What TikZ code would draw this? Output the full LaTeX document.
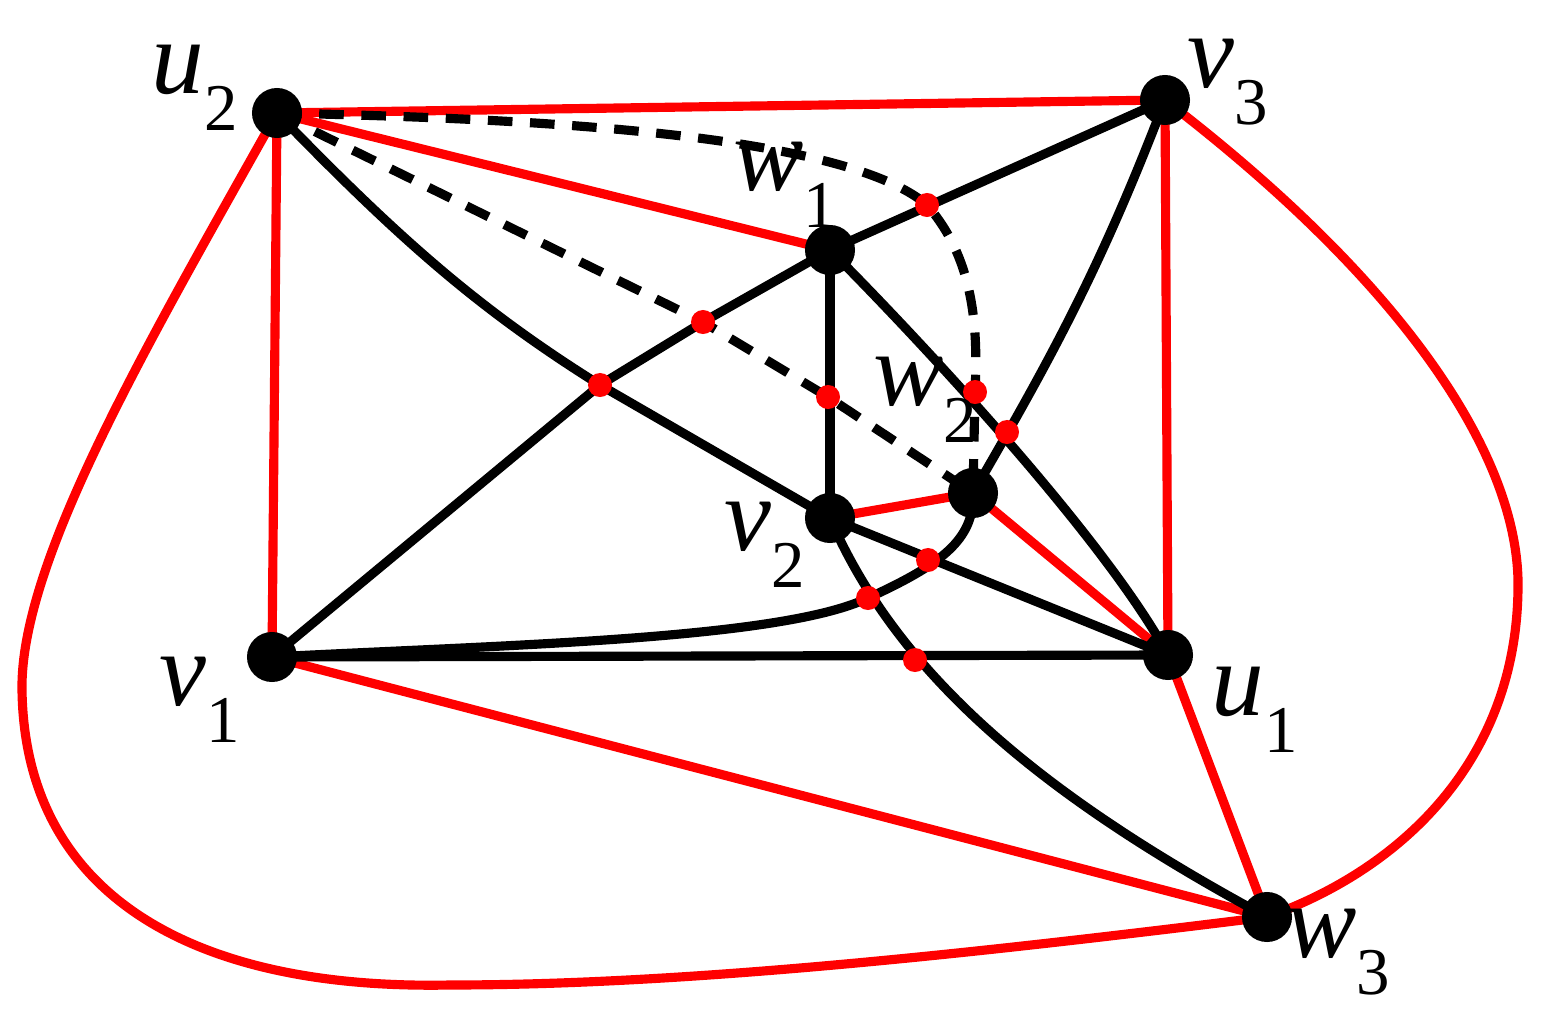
\documentclass[tikz,border=0pt]{standalone}
\usepackage{fontspec}
\setmainfont{Liberation Serif}
\newcommand{\lab}[2]{\fontsize{30}{30}\selectfont\itshape #1\raisebox{-0.35em}{\upshape\fontsize{19}{19}\selectfont #2}}
\begin{document}
\begin{tikzpicture}[x=0.01cm,y=-0.01cm,
 vtx/.style={circle,fill=black,inner sep=0pt,minimum size=0.5cm},
 cr/.style={circle,fill=red,inner sep=0pt,minimum size=0.24cm},
 bl/.style={line width=2.6pt,black},
 rd/.style={line width=2.6pt,red},
 ds/.style={line width=2.6pt,black,dash pattern=on 7pt off 5pt},
 lb/.style={inner sep=0pt}]
\useasboundingbox (0,0) rectangle (1548,1027);
\coordinate (u2) at (277,113); \coordinate (v3) at (1165,100);
\coordinate (w1) at (830,250); \coordinate (w2) at (973,493);
\coordinate (v2) at (830,518); \coordinate (v1) at (272,657);
\coordinate (u1) at (1168,655); \coordinate (w3) at (1267,917);
% red edges
\draw[rd] (u2)--(v3); \draw[rd] (u2)--(w1); \draw[rd] (u2)--(v1);
\draw[rd] (v3)--(u1); \draw[rd] (v1)--(w3); \draw[rd] (u1)--(w3);
\draw[rd] (v2)--(w2); \draw[rd] (w2)--(u1);
\draw[rd] (u2) .. controls (150,340) and (20,560) .. (22,690) .. controls (25,900) and (200,990) .. (450,985) .. controls (700,985) and (1000,950) .. (w3);
\draw[rd] (v3) .. controls (1400,280) and (1515,450) .. (1518,580) .. controls (1520,760) and (1400,870) .. (w3);
% dashed
\draw[ds] (u2) -- (703,322) -- (828,397) -- (w2);
\draw[ds] (u2) .. controls (500,118) and (840,130) .. (927,205) .. controls (975,260) and (978,330) .. (975,392) -- (w2);
% black edges
\draw[bl] (w1)--(v3); \draw[bl] (w1)--(v2); \draw[bl] (v1)--(u1); \draw[bl] (v2)--(u1);
\draw[bl] (v1) -- (600,385) -- (703,322) -- (w1);
\draw[bl] (u2) .. controls (400,240) and (480,310) .. (600,385) -- (v2);
\draw[bl] (w1) .. controls (900,320) and (1100,530) .. (u1);
\draw[bl] (v3) .. controls (1100,270) and (1050,360) .. (w2);
\draw[bl] (v2) .. controls (900,680) and (1050,800) .. (w3);
\draw[bl] (v1) .. controls (500,645) and (780,640) .. (868,598) .. controls (940,565) and (975,540) .. (w2);
% vertices
\foreach \n in {u2,v3,w1,w2,v2,v1,u1,w3} \node[vtx] (N\n) at (\n) {};
% crossings
\foreach \p [count=\i] in {(927,205),(703,322),(600,385),(828,397),(975,392),(1007,432),(928,560),(868,598),(915,660)} \node[cr] (c\i) at \p {};
% labels
\node[lb] (Lu2) at (195,88) {\lab{u}{2}};
\node[lb] (Lv3) at (1228,82) {\lab{v}{3}};
\node[lb] (Lw1) at (785,185) {\lab{w}{1}};
\node[lb] (Lw2) at (925,400) {\lab{w}{2}};
\node[lb] (Lv2) at (765,545) {\lab{v}{2}};
\node[lb] (Lv1) at (200,700) {\lab{v}{1}};
\node[lb] (Lu1) at (1255,710) {\lab{u}{1}};
\node[lb] (Lw3) at (1338,952) {\lab{w}{3}};
\end{tikzpicture}
\end{document}
